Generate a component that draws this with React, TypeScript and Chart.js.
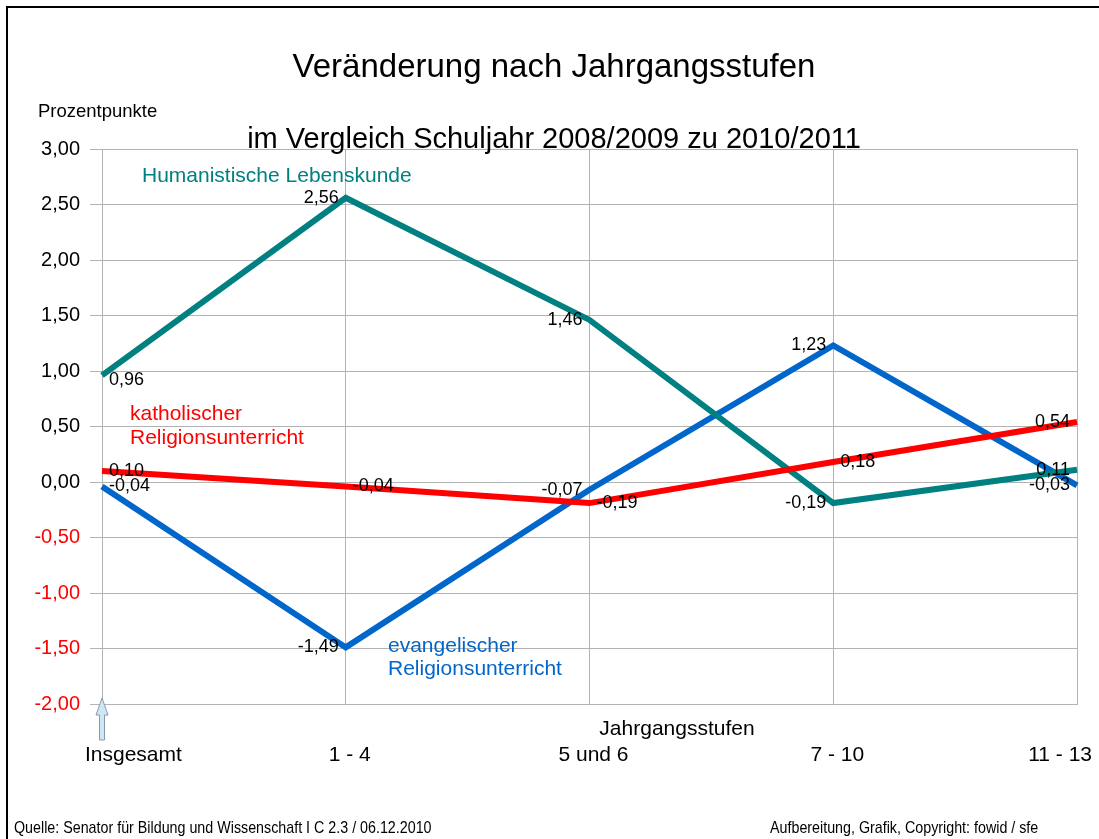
import React, { useEffect, useRef } from "react";
import { Chart, registerables } from "chart.js";

Chart.register(...registerables);

const categories = ["Insgesamt", "1 - 4", "5 und 6", "7 - 10", "11 - 13"];
const humanistisch = [0.96, 2.56, 1.46, -0.19, 0.11];
const katholisch = [0.1, -0.04, -0.19, 0.18, 0.54];
const evangelisch = [-0.04, -1.49, -0.07, 1.23, -0.03];
const yMin = -2;
const yMax = 3;
const yStep = 0.5;

const titleText = "Veränderung nach Jahrgangsstufen";
const subtitleText = "im Vergleich Schuljahr 2008/2009 zu 2010/2011";
const yAxisTitle = "Prozentpunkte";
const xAxisTitle = "Jahrgangsstufen";
const footerLeft = "Quelle: Senator für Bildung und Wissenschaft I C 2.3 / 06.12.2010";
const footerRight = "Aufbereitung, Grafik, Copyright: fowid / sfe";

const TEAL = "#008080";
const RED = "#ff0000";
const BLUE = "#0066cc";
const GRID = "#b3b3b3";
const FONT = "'Liberation Sans', Arial, sans-serif";

// label side per point: 'r' = right of point, 'l' = left of point
const labelSides: Record<string, string[]> = {
  kath: ["r", "r", "r", "r", "l"],
  ev: ["r", "l", "l", "l", "l"],
  hum: ["r", "l", "l", "l", "l"],
};

const fmt = (v: number) => v.toFixed(2).replace(".", ",");

const overlay = {
  id: "overlay",
  afterDatasetsDraw(chart: any) {
    const ctx = chart.ctx;
    ctx.save();
    // data labels
    ctx.font = `18px ${FONT}`;
    ctx.fillStyle = "#000";
    ctx.textBaseline = "middle";
    chart.data.datasets.forEach((ds: any, di: number) => {
      const meta = chart.getDatasetMeta(di);
      const sides = labelSides[ds.key];
      meta.data.forEach((pt: any, i: number) => {
        const txt = fmt(ds.data[i]);
        const side = sides[i];
        let x = pt.x;
        let y = pt.y;
        if (side === "r") {
          ctx.textAlign = "left";
          x += 7;
          if (ds.key === "hum" && i === 0) y += 5;
        } else {
          ctx.textAlign = "right";
          x -= 7;
        }
        ctx.fillText(txt, x, y);
      });
    });
    // series labels
    ctx.textAlign = "left";
    ctx.textBaseline = "alphabetic";
    ctx.font = `21px ${FONT}`;
    ctx.fillStyle = TEAL;
    ctx.fillText("Humanistische Lebenskunde", 142, 182);
    ctx.fillStyle = RED;
    ctx.fillText("katholischer", 130, 420);
    ctx.fillText("Religionsunterricht", 130, 444);
    ctx.fillStyle = BLUE;
    ctx.fillText("evangelischer", 388, 652);
    ctx.fillText("Religionsunterricht", 388, 675);
    ctx.restore();
  },
  afterDraw(chart: any) {
    const ctx = chart.ctx;
    const xs = chart.scales.x;
    const area = chart.chartArea;
    ctx.save();
    // outer frame
    ctx.strokeStyle = "#000";
    ctx.lineWidth = 2;
    ctx.beginPath();
    ctx.moveTo(7, chart.height);
    ctx.lineTo(7, 7);
    ctx.lineTo(chart.width, 7);
    ctx.stroke();

    // title / subtitle
    ctx.fillStyle = "#000";
    ctx.textBaseline = "alphabetic";
    ctx.textAlign = "center";
    ctx.font = `33px ${FONT}`;
    ctx.fillText(titleText, 554, 77);
    ctx.font = `29px ${FONT}`;
    ctx.fillText(subtitleText, 554, 148);
    ctx.textAlign = "left";
    ctx.font = `18.5px ${FONT}`;
    ctx.fillText(yAxisTitle, 38, 117);

    // x axis title
    ctx.textAlign = "center";
    ctx.font = `21px ${FONT}`;
    ctx.fillText(xAxisTitle, 677, 735);

    // x category labels
    categories.forEach((c, i) => {
      const px = xs.getPixelForValue(i);
      if (i === 0) {
        ctx.textAlign = "left";
        ctx.fillText(c, px - 17, 761);
      } else if (i === categories.length - 1) {
        ctx.textAlign = "right";
        ctx.fillText(c, px + 15, 761);
      } else {
        ctx.textAlign = "center";
        ctx.fillText(c, px + 4, 761);
      }
    });

    // arrow at Insgesamt
    const ax = xs.getPixelForValue(0);
    const tipY = area.bottom - 6;
    ctx.beginPath();
    ctx.moveTo(ax, tipY);
    ctx.lineTo(ax + 6, tipY + 17);
    ctx.lineTo(ax + 2.5, tipY + 17);
    ctx.lineTo(ax + 2.5, tipY + 42);
    ctx.lineTo(ax - 2.5, tipY + 42);
    ctx.lineTo(ax - 2.5, tipY + 17);
    ctx.lineTo(ax - 6, tipY + 17);
    ctx.closePath();
    ctx.fillStyle = "#cfe6f5";
    ctx.fill();
    ctx.strokeStyle = "#8a9aa8";
    ctx.lineWidth = 1;
    ctx.stroke();

    // footers (narrow)
    ctx.fillStyle = "#000";
    ctx.font = `17px ${FONT}`;
    ctx.textAlign = "left";
    ctx.save();
    ctx.translate(14, 833);
    ctx.scale(0.84, 1);
    ctx.fillText(footerLeft, 0, 0);
    ctx.restore();
    ctx.save();
    ctx.translate(770, 833);
    ctx.scale(0.84, 1);
    ctx.fillText(footerRight, 0, 0);
    ctx.restore();

    ctx.restore();
  },
};

export default function App() {
  const ref = useRef<HTMLCanvasElement | null>(null);
  useEffect(() => {
    if (!ref.current) return;
    const chart = new Chart(ref.current, {
      type: "line",
      data: {
        labels: categories,
        datasets: [
          { key: "kath", label: "katholischer Religionsunterricht", data: katholisch, borderColor: RED, backgroundColor: RED },
          { key: "hum", label: "Humanistische Lebenskunde", data: humanistisch, borderColor: TEAL, backgroundColor: TEAL },
          { key: "ev", label: "evangelischer Religionsunterricht", data: evangelisch, borderColor: BLUE, backgroundColor: BLUE },
        ] as any,
      },
      options: {
        responsive: false,
        animation: false,
        devicePixelRatio: 1,
        layout: { padding: { top: 149, right: 22, bottom: 0, left: 0 } },
        elements: {
          line: { borderWidth: 6, tension: 0, borderJoinStyle: "miter", borderCapStyle: "butt" },
          point: { radius: 0, hoverRadius: 0 },
        },
        plugins: { legend: { display: false }, tooltip: { enabled: false }, title: { display: false } },
        scales: {
          x: {
            type: "category",
            offset: false,
            grid: { color: GRID, drawTicks: false, lineWidth: 1 },
            border: { display: true, color: GRID },
            ticks: { display: false },
            afterFit: (s: any) => { s.height = 135; },
          },
          y: {
            type: "linear",
            min: yMin,
            max: yMax,
            grid: { color: GRID, drawTicks: true, tickLength: 12, lineWidth: 1 },
            border: { display: true, color: GRID },
            ticks: {
              stepSize: yStep,
              padding: 10,
              font: { family: FONT, size: 20 },
              color: (c: any) => (c.tick && c.tick.value < 0 ? RED : "#000"),
              callback: (v: any) => fmt(Number(v)),
            },
            afterFit: (s: any) => { s.width = 102; },
          },
        },
      } as any,
      plugins: [overlay],
    });
    return () => chart.destroy();
  }, []);
  return (
    <div style={{ position: "absolute", left: 0, top: 0, width: 1099, height: 839, background: "#fff" }}>
      <canvas ref={ref} width={1099} height={839} style={{ display: "block" }} />
    </div>
  );
}
